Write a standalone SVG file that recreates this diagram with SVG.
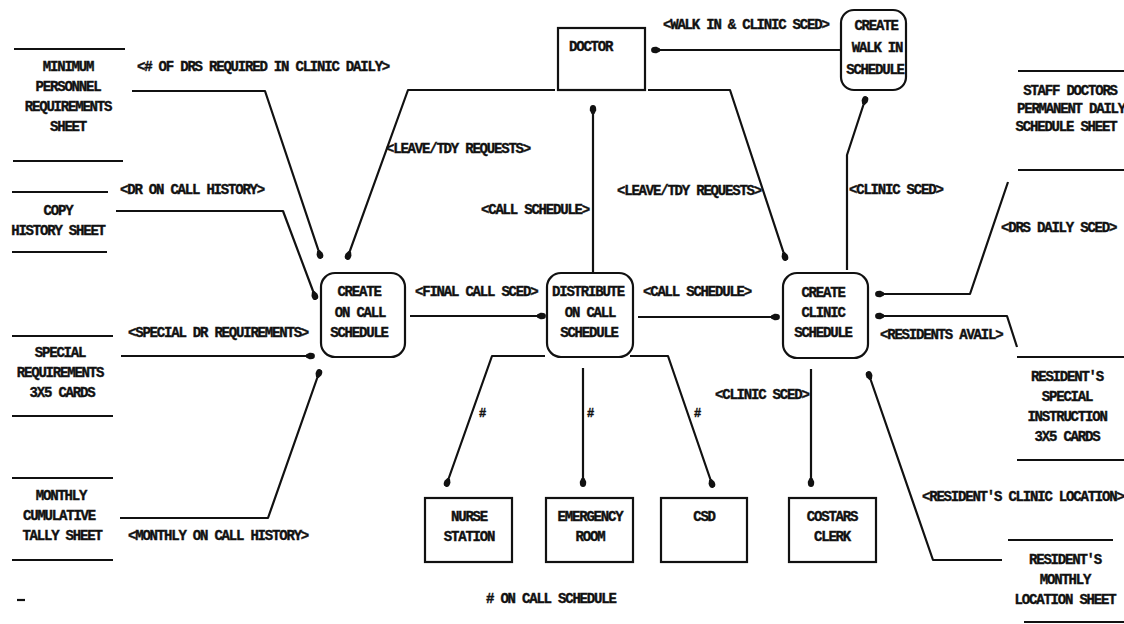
<svg xmlns="http://www.w3.org/2000/svg" width="1124" height="624" viewBox="0 0 1124 624">
<defs>
<style>
.t{font-family:"Liberation Mono","DejaVu Sans Mono",monospace;font-weight:bold;font-size:14px;letter-spacing:-1.2px;fill:#111;stroke:#111;stroke-width:0.4px;dominant-baseline:central}
.c{text-anchor:middle}
.bx{fill:#fff;stroke:#111;stroke-width:2.2}
.st{stroke:#111;stroke-width:2.2}
.cn{fill:none;stroke:#111;stroke-width:2.2;stroke-linejoin:round;marker-end:url(#dot)}
.m{font-size:12px}
</style>
<marker id="dot" viewBox="0 0 10 10" refX="9" refY="5" markerWidth="9" markerHeight="9" markerUnits="userSpaceOnUse" orient="auto">
<path d="M0,3.5 L4,1.5 Q10,1 10,5 Q10,9 4,8.5 L0,6.5 Z" fill="#111"/>
</marker>
</defs>
<rect width="1124" height="624" fill="#fff"/>

<g id="connectors">
<path class="cn" d="M132,91 H265 L321,258"/>
<path class="cn" d="M116,211 H283 L316,299"/>
<path class="cn" d="M121,356 H314"/>
<path class="cn" d="M120,518 H268 L320,370"/>
<path class="cn" d="M555,90 H408 L347,259"/>
<path class="cn" d="M648,90 H730 L786,260"/>
<path class="cn" d="M593,272 V106"/>
<path class="cn" d="M841,50 H652"/>
<path class="cn" d="M847,270 V155 L866,97"/>
<path class="cn" d="M410,316 H545"/>
<path class="cn" d="M638,317 H779"/>
<path class="cn" d="M1008,182 L970,294 H876"/>
<path class="cn" d="M1017,347 L1007,316 H876"/>
<path class="cn" d="M1002,560 H933 L868,372"/>
<path class="cn" d="M811,369 V486"/>
<path class="cn" d="M545,356 H492 L446,486"/>
<path class="cn" d="M583,368 V486"/>
<path class="cn" d="M630,356 H668 L713,487"/>
</g>

<g id="store-minimum-personnel">
<line class="st" x1="14" y1="49" x2="125" y2="49"/>
<line class="st" x1="13" y1="161" x2="123" y2="161"/>
<text class="t c" x="68" y="67">MINIMUM</text>
<text class="t c" x="68" y="87">PERSONNEL</text>
<text class="t c" x="68" y="107">REQUIREMENTS</text>
<text class="t c" x="68" y="127">SHEET</text>
</g>
<g id="store-copy-history">
<line class="st" x1="12" y1="192" x2="108" y2="192"/>
<line class="st" x1="12" y1="252" x2="107" y2="252"/>
<text class="t c" x="58" y="211">COPY</text>
<text class="t c" x="58" y="231">HISTORY SHEET</text>
</g>
<g id="store-special-requirements">
<line class="st" x1="12" y1="336" x2="113" y2="336"/>
<line class="st" x1="12" y1="416" x2="113" y2="416"/>
<text class="t c" x="60" y="353">SPECIAL</text>
<text class="t c" x="60" y="373">REQUIREMENTS</text>
<text class="t c" x="62" y="393">3X5 CARDS</text>
</g>
<g id="store-monthly-tally">
<line class="st" x1="12" y1="478" x2="113" y2="478"/>
<line class="st" x1="12" y1="560" x2="113" y2="560"/>
<text class="t c" x="61" y="496">MONTHLY</text>
<text class="t c" x="59" y="516">CUMULATIVE</text>
<text class="t c" x="62" y="536">TALLY SHEET</text>
</g>

<g id="store-staff-doctors">
<line class="st" x1="1018" y1="71" x2="1124" y2="71"/>
<line class="st" x1="1018" y1="170" x2="1124" y2="170"/>
<text class="t c" x="1070" y="91">STAFF DOCTORS</text>
<text class="t c" x="1071" y="109">PERMANENT DAILY</text>
<text class="t c" x="1066" y="127">SCHEDULE SHEET</text>
</g>
<g id="store-resident-special">
<line class="st" x1="1017" y1="357" x2="1124" y2="357"/>
<line class="st" x1="1017" y1="460" x2="1124" y2="460"/>
<text class="t c" x="1067" y="377">RESIDENT'S</text>
<text class="t c" x="1067" y="397">SPECIAL</text>
<text class="t c" x="1067" y="417">INSTRUCTION</text>
<text class="t c" x="1067" y="437">3X5 CARDS</text>
</g>
<g id="store-resident-monthly">
<line class="st" x1="1008" y1="540" x2="1113" y2="540"/>
<line class="st" x1="1024" y1="622" x2="1124" y2="622"/>
<text class="t c" x="1065" y="560">RESIDENT'S</text>
<text class="t c" x="1065" y="580">MONTHLY</text>
<text class="t c" x="1065" y="600">LOCATION SHEET</text>
</g>

<g id="proc-create-on-call">
<rect class="bx" x="321" y="273" width="84" height="84" rx="14"/>
<text class="t c" x="359" y="292">CREATE</text>
<text class="t c" x="360" y="313">ON CALL</text>
<text class="t c" x="359" y="333">SCHEDULE</text>
</g>
<g id="proc-distribute">
<rect class="bx" x="547" y="273" width="86" height="84" rx="14"/>
<text class="t c" x="588" y="292">DISTRIBUTE</text>
<text class="t c" x="590" y="313">ON CALL</text>
<text class="t c" x="589" y="333">SCHEDULE</text>
</g>
<g id="proc-create-clinic">
<rect class="bx" x="783" y="273" width="85" height="85" rx="14"/>
<text class="t c" x="823" y="293">CREATE</text>
<text class="t c" x="823" y="313">CLINIC</text>
<text class="t c" x="823" y="333">SCHEDULE</text>
</g>
<g id="proc-walk-in">
<rect class="bx" x="841" y="10" width="65" height="80" rx="13"/>
<text class="t c" x="876" y="26">CREATE</text>
<text class="t c" x="877" y="48">WALK IN</text>
<text class="t c" x="875" y="70">SCHEDULE</text>
</g>

<g id="ent-doctor">
<rect class="bx" x="558" y="28" width="87" height="62"/>
<text class="t" x="569" y="47">DOCTOR</text>
</g>
<g id="ent-nurse">
<rect class="bx" x="425" y="498" width="87" height="64"/>
<text class="t c" x="469" y="517">NURSE</text>
<text class="t c" x="469" y="537">STATION</text>
</g>
<g id="ent-er">
<rect class="bx" x="546" y="498" width="87" height="64"/>
<text class="t c" x="590" y="517">EMERGENCY</text>
<text class="t c" x="590" y="537">ROOM</text>
</g>
<g id="ent-csd">
<rect class="bx" x="661" y="498" width="86" height="64"/>
<text class="t c" x="704" y="517">CSD</text>
</g>
<g id="ent-costars">
<rect class="bx" x="789" y="498" width="87" height="64"/>
<text class="t c" x="832" y="517">COSTARS</text>
<text class="t c" x="832" y="537">CLERK</text>
</g>

<g id="labels">
<text class="t" x="137" y="67">&lt;# OF DRS REQUIRED IN CLINIC DAILY&gt;</text>
<text class="t" x="120" y="190">&lt;DR ON CALL HISTORY&gt;</text>
<text class="t" x="128" y="333">&lt;SPECIAL DR REQUIREMENTS&gt;</text>
<text class="t" x="128" y="536">&lt;MONTHLY ON CALL HISTORY&gt;</text>
<text class="t" x="386" y="149">&lt;LEAVE/TDY REQUESTS&gt;</text>
<text class="t" x="481" y="210">&lt;CALL SCHEDULE&gt;</text>
<text class="t" x="617" y="191">&lt;LEAVE/TDY REQUESTS&gt;</text>
<text class="t" x="663" y="25">&lt;WALK IN &amp; CLINIC SCED&gt;</text>
<text class="t" x="849" y="190">&lt;CLINIC SCED&gt;</text>
<text class="t" x="1001" y="228">&lt;DRS DAILY SCED&gt;</text>
<text class="t" x="415" y="292">&lt;FINAL CALL SCED&gt;</text>
<text class="t" x="643" y="292">&lt;CALL SCHEDULE&gt;</text>
<text class="t" x="880" y="335">&lt;RESIDENTS AVAIL&gt;</text>
<text class="t" x="715" y="395">&lt;CLINIC SCED&gt;</text>
<text class="t" x="922" y="497">&lt;RESIDENT'S CLINIC LOCATION&gt;</text>
<text class="t c m" x="482" y="414">#</text>
<text class="t c m" x="590" y="414">#</text>
<text class="t c m" x="697" y="414">#</text>
<text class="t" x="486" y="599"># ON CALL SCHEDULE</text>
</g>
<line class="st" x1="17" y1="600" x2="25" y2="600"/>
</svg>
